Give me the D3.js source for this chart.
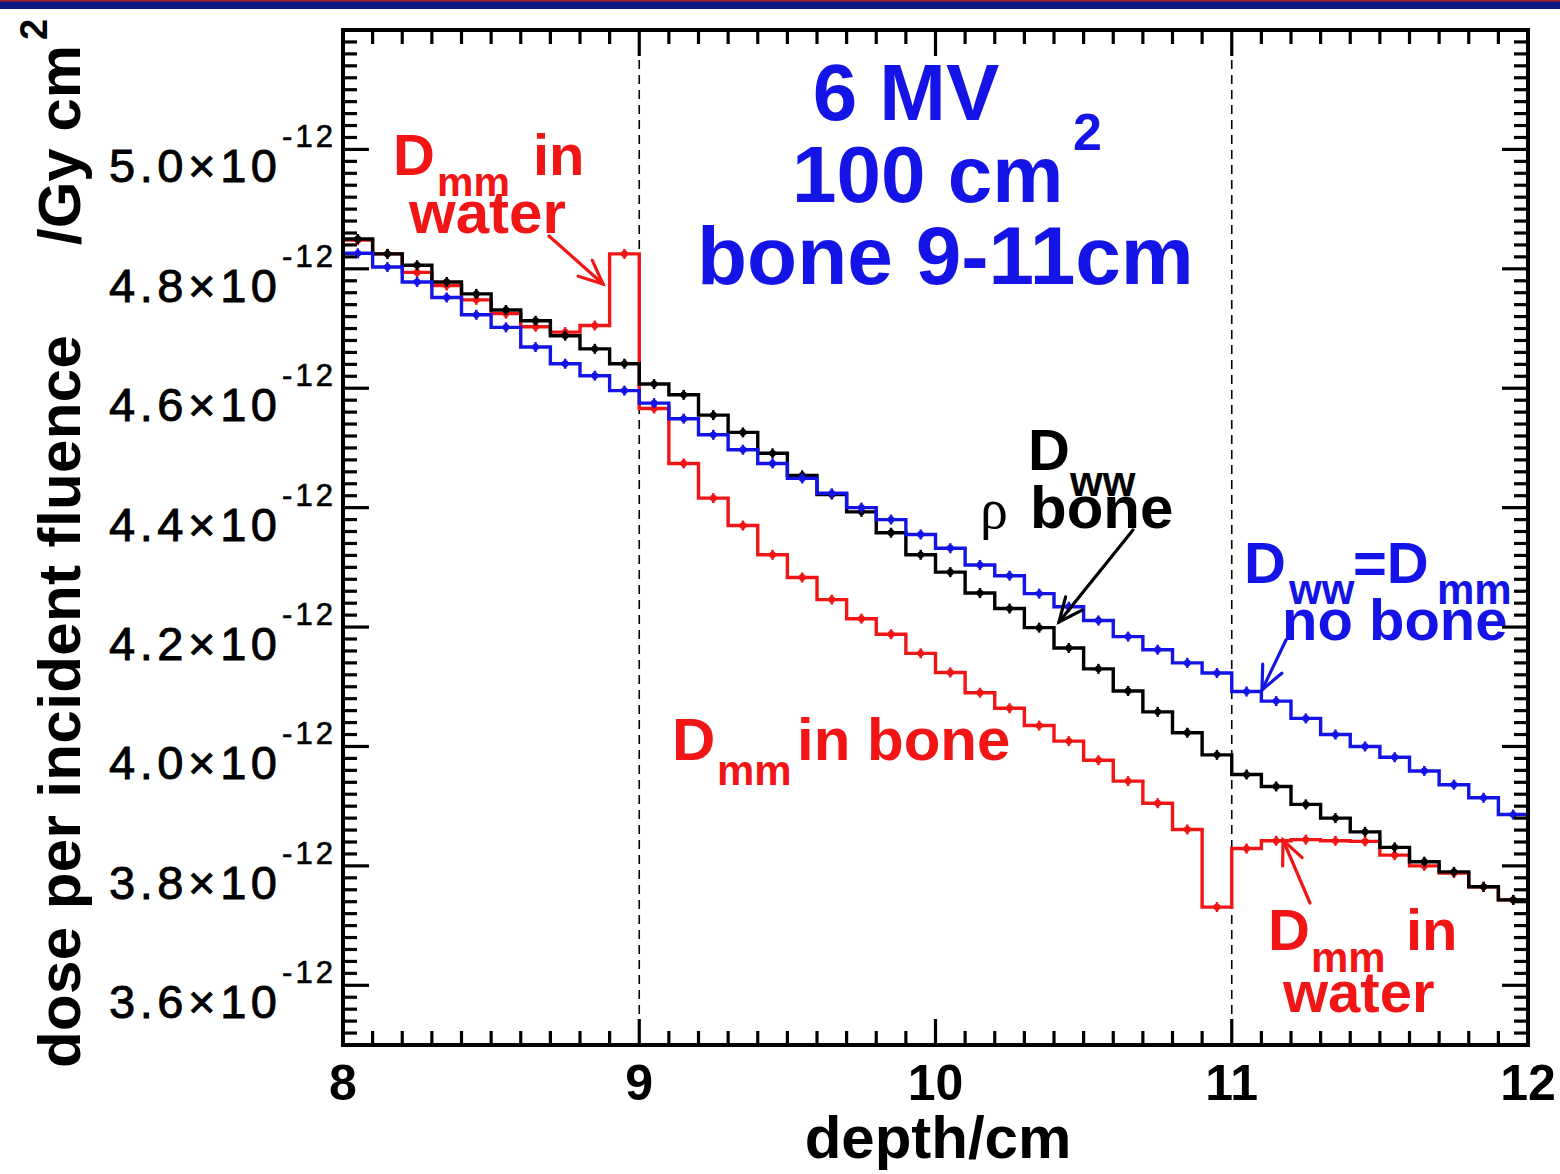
<!DOCTYPE html>
<html><head><meta charset="utf-8">
<script src="https://cdn.jsdelivr.net/npm/d3@7"></script>
<style>
body{margin:0;background:#fff}
svg{display:block}
text{font-family:"Liberation Sans",Arial,Helvetica,sans-serif}
</style>
</head><body>
<svg id="c" width="1560" height="1174"></svg>
<script>
// ---------------- data ----------------
const depthBins = [8.0,8.1,8.2,8.3,8.4,8.5,8.6,8.7,8.8,8.9,
                   9.0,9.1,9.2,9.3,9.4,9.5,9.6,9.7,9.8,9.9,
                   10.0,10.1,10.2,10.3,10.4,10.5,10.6,10.7,10.8,10.9,
                   11.0,11.1,11.2,11.3,11.4,11.5,11.6,11.7,11.8,11.9];
const binWidth = 0.1;
// D_ww = D_mm, no bone (blue)
const doseNoBone = [4.826,4.803,4.778,4.752,4.723,4.702,4.669,4.641,4.621,4.596,
                    4.575,4.549,4.522,4.497,4.474,4.449,4.424,4.400,4.380,4.355,
                    4.332,4.304,4.286,4.256,4.234,4.211,4.184,4.162,4.140,4.123,
                    4.092,4.076,4.047,4.020,4.000,3.982,3.959,3.936,3.914,3.886];
// D_ww, rho bone (black)
const doseWaterBoneDensity = [4.850,4.825,4.806,4.778,4.758,4.731,4.713,4.688,4.666,4.641,
                    4.607,4.589,4.555,4.526,4.491,4.454,4.422,4.393,4.358,4.321,
                    4.292,4.257,4.231,4.199,4.165,4.130,4.093,4.058,4.023,3.986,
                    3.953,3.933,3.903,3.880,3.857,3.831,3.807,3.790,3.765,3.743];
// D_mm (red)
const doseMediumInMedium = [4.848,4.825,4.794,4.772,4.748,4.725,4.703,4.694,4.705,4.825,
                    4.566,4.474,4.416,4.370,4.321,4.283,4.246,4.214,4.188,4.156,
                    4.124,4.090,4.064,4.035,4.009,3.977,3.942,3.905,3.861,3.731,
                    3.829,3.842,3.844,3.842,3.841,3.818,3.800,3.788,3.765,3.743];
const xTickValues = [8,9,10,11,12];
const xTickLabels = ["8","9","10","11","12"];
const yTickValues = [3.6,3.8,4.0,4.2,4.4,4.6,4.8,5.0];
const yTickLabels = ["3.6","3.8","4.0","4.2","4.4","4.6","4.8","5.0"];
const yExponent = "-12";
const boneBoundaries = [9, 11];

// ---------------- layout ----------------
const L = 343, R = 1528, T = 30, B = 1045;
const svg = d3.select("#c");
const x = d3.scaleLinear().domain([8, 12]).range([L, R]);
const y = d3.scaleLinear().domain([3.5, 5.2]).range([B, T]);

const RED = "#f21515", BLUE = "#1414e6", BLACK = "#000";

// top slide band
svg.append("rect").attr("x",0).attr("y",0).attr("width",1560).attr("height",9).attr("fill","#0b1a7e");
svg.append("rect").attr("x",0).attr("y",0).attr("width",1560).attr("height",1.5).attr("fill","#a8202a");

// dashed bone boundaries
svg.selectAll("line.bone").data(boneBoundaries).join("line")
  .attr("x1",d=>x(d)).attr("x2",d=>x(d)).attr("y1",T).attr("y2",B)
  .attr("stroke","#000").attr("stroke-width",1.6).attr("stroke-dasharray","9,6");

// step curves
function series(vals, color){
  const pts = depthBins.map((b,i)=>[b, vals[i]]);
  pts.push([depthBins[depthBins.length-1]+binWidth, vals[vals.length-1]]);
  const line = d3.line().x(d=>x(d[0])).y(d=>y(d[1])).curve(d3.curveStepAfter);
  svg.append("path").attr("d", line(pts)).attr("fill","none")
    .attr("stroke", color).attr("stroke-width",3.4).attr("stroke-linejoin","miter");
  const g = svg.append("g");
  g.selectAll("circle").data(depthBins).join("circle")
    .attr("cx",(d)=>x(d+binWidth/2)).attr("cy",(d,i)=>y(vals[i])).attr("r",3.4).attr("fill",color);
  g.selectAll("line").data(depthBins).join("line")
    .attr("x1",(d)=>x(d+binWidth/2)).attr("x2",(d)=>x(d+binWidth/2))
    .attr("y1",(d,i)=>y(vals[i])-5).attr("y2",(d,i)=>y(vals[i])+5)
    .attr("stroke",color).attr("stroke-width",2.5);
}
series(doseMediumInMedium, RED);
series(doseWaterBoneDensity, BLACK);
series(doseNoBone, BLUE);

// ---------------- axes / frame ----------------
const ax = svg.append("g").attr("stroke","#000").attr("stroke-width",3.2);
const xMinor = d3.range(8, 12.0001, 0.1).map(v=>+v.toFixed(2));
xMinor.forEach(v=>{
  const major = Math.abs(v-Math.round(v))<1e-6;
  const len = major ? 26 : 14;
  ax.append("line").attr("x1",x(v)).attr("x2",x(v)).attr("y1",B).attr("y2",B-len);
  ax.append("line").attr("x1",x(v)).attr("x2",x(v)).attr("y1",T).attr("y2",T+len);
});
const yMinor = d3.range(3.5, 5.2001, 0.02).map(v=>+v.toFixed(3));
yMinor.forEach(v=>{
  const major = Math.abs(v*5-Math.round(v*5))<1e-6;
  const len = major ? 26 : 14;
  ax.append("line").attr("y1",y(v)).attr("y2",y(v)).attr("x1",L).attr("x2",L+len);
  ax.append("line").attr("y1",y(v)).attr("y2",y(v)).attr("x1",R).attr("x2",R-len);
});
svg.append("rect").attr("x",L).attr("y",T).attr("width",R-L).attr("height",B-T)
  .attr("fill","none").attr("stroke","#000").attr("stroke-width",4);

// x tick labels
svg.selectAll("text.xt").data(xTickValues).join("text")
  .attr("x",d=>x(d)).attr("y",1100).attr("text-anchor","middle")
  .attr("font-size",50).attr("font-weight","bold").text((d,i)=>xTickLabels[i]);

// y tick labels
yTickValues.forEach((v,i)=>{
  const ty = y(v);
  svg.append("text").attr("x",109).attr("y",ty+33).attr("font-size",47)
    .attr("textLength",168).attr("lengthAdjust","spacing")
    .attr("stroke","#000").attr("stroke-width",0.9)
    .text(yTickLabels[i]+"\u00d710");
  svg.append("text").attr("x",282).attr("y",ty-2).attr("font-size",31)
    .attr("textLength",51).attr("lengthAdjust","spacing")
    .attr("stroke","#000").attr("stroke-width",0.6).text(yExponent);
});

// axis titles
svg.append("text").attr("x",938).attr("y",1158).attr("text-anchor","middle")
  .attr("font-size",60).attr("font-weight","bold").text("depth/cm");
svg.append("text").attr("transform","translate(80,1068) rotate(-90)")
  .attr("font-size",60).attr("font-weight","bold")
  .attr("textLength",733).attr("lengthAdjust","spacing").text("dose per incident fluence");
svg.append("text").attr("transform","translate(80,245) rotate(-90)")
  .attr("font-size",60).attr("font-weight","bold").text("/Gy cm");
svg.append("text").attr("transform","translate(47,40) rotate(-90)")
  .attr("font-size",38).attr("font-weight","bold").text("2");

// ---------------- annotations ----------------
function label(txt, px, py, size, color, opts={}){
  const t = svg.append("text").attr("x",px).attr("y",py).attr("font-size",size)
    .attr("fill",color).attr("font-weight", opts.weight||"bold").text(txt);
  if(opts.anchor) t.attr("text-anchor",opts.anchor);
  if(opts.family) t.style("font-family",opts.family);
  return t;
}
function arrow(x1,y1,x2,y2,color){
  const g = svg.append("g").attr("stroke",color).attr("stroke-width",3.2).attr("fill","none")
    .attr("stroke-linecap","round");
  g.append("line").attr("x1",x1).attr("y1",y1).attr("x2",x2).attr("y2",y2);
  const a = Math.atan2(y1-y2, x1-x2), hl = 26, hw = 0.42;
  g.append("path").attr("d",
    `M${x2+hl*Math.cos(a+hw)},${y2+hl*Math.sin(a+hw)} L${x2},${y2} L${x2+hl*Math.cos(a-hw)},${y2+hl*Math.sin(a-hw)}`);
}

// blue title
label("6 MV", 906, 120, 80, BLUE, {anchor:"middle"});
label("100 cm", 792, 202, 80, BLUE);
label("2", 1073, 150, 52, BLUE);
label("bone 9-11cm", 697, 284, 82, BLUE);

// red top-left
label("D", 393, 175, 58, RED);
label("mm", 437, 196, 41, RED);
label("in", 533, 175, 58, RED);
label("water", 409, 233, 60, RED);
arrow(549, 236, 603, 284, RED);

// black
label("D", 1028, 470, 58, BLACK);
label("ww", 1070, 496, 42, BLACK);
label("\u03c1", 980, 528, 56, BLACK, {weight:"normal", family:"'Liberation Serif','DejaVu Serif',serif"});
label("bone", 1030, 528, 60, BLACK);
arrow(1133, 530, 1059, 622, BLACK);

// blue right
label("D", 1244, 583, 58, BLUE);
label("ww", 1289, 604, 42, BLUE);
label("=D", 1353, 583, 58, BLUE);
label("mm", 1437, 604, 42, BLUE);
label("no bone", 1282, 640, 58, BLUE);
arrow(1286, 640, 1262, 690, BLUE);

// red in bone
label("D", 672, 760, 60, RED);
label("mm", 717, 785, 42, RED);
label("in bone", 797, 760, 60, RED);

// red bottom-right
label("D", 1268, 950, 58, RED);
label("mm", 1311, 972, 42, RED);
label("in", 1406, 950, 58, RED);
label("water", 1283, 1012, 58, RED);
arrow(1310, 903, 1283, 840, RED);
</script>
</body></html>
